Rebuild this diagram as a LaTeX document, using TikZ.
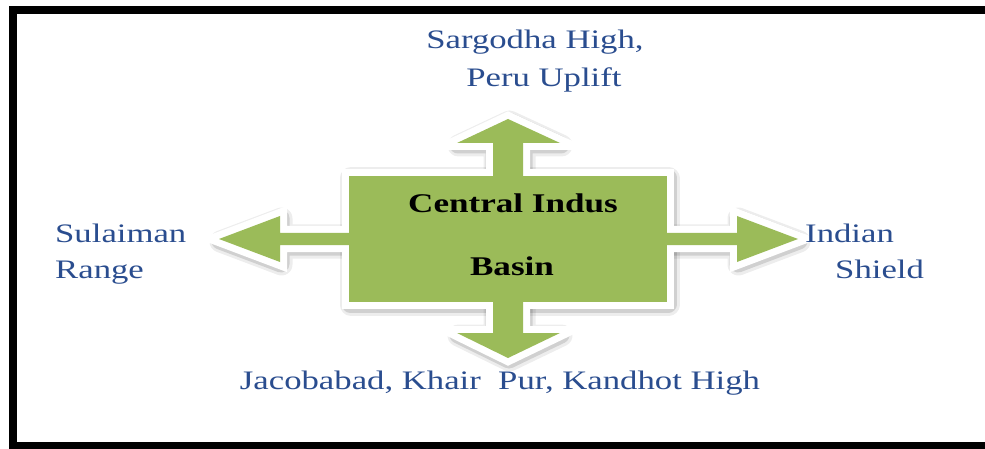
\documentclass[tikz,border=0pt]{standalone}
\usepackage{fontspec}
\setmainfont{Liberation Serif}[FakeStretch=1.3]
\definecolor{olivegreen}{HTML}{9BBB59}
\definecolor{labelblue}{HTML}{2A4D8F}
\begin{document}
\begin{tikzpicture}[x=1pt,y=-1pt,
  lbl/.style={text=labelblue,font=\fontsize{26.7}{30}\selectfont,inner sep=0pt},
  ttl/.style={text=black,font=\fontsize{27}{30}\selectfont\bfseries,inner sep=0pt,anchor=base},
  shA/.style={draw=black,fill=black,opacity=.07,line width=22pt,line join=round,
    transform canvas={shift={(1.5pt,-2.5pt)}}},
  shB/.style={draw=black,fill=black,opacity=.12,line width=17pt,line join=round,
    transform canvas={shift={(1pt,-2pt)}}},
  wh/.style={draw=white,fill=white,line width=14pt,line join=miter},
  gr/.style={fill=olivegreen}]
\useasboundingbox (0,0) rectangle (985,449);
\clip (0,0) rectangle (985,449);
\fill[white] (0,0) rectangle (985,449);
% frame
\draw[line width=8pt] (13,450) -- (13,10) -- (995,10);
\draw[line width=8pt] (13,446) -- (995,446);
% shapes: shadow, white outline, green fill
\foreach \lay in {shA,shB,wh,gr}{
  \path[\lay] (349,176) rectangle (667,302);
  \path[\lay] (493,176) -- (493,143) -- (457,143) -- (508,119) -- (560,143) -- (523,143) -- (523,176) -- cycle;
  \path[\lay] (493,302) -- (493,333) -- (457,333) -- (508,358) -- (560,333) -- (523,333) -- (523,302) -- cycle;
  \path[\lay] (349,233) -- (280,233) -- (280,216) -- (219,239) -- (280,262) -- (280,245) -- (349,245) -- cycle;
  \path[\lay] (667,233) -- (737,233) -- (737,216) -- (798,239) -- (737,262) -- (737,245) -- (667,245) -- cycle;
}
% box text
\node[ttl] (central) at (513,212) {Central Indus};
\node[ttl] (basin) at (512,275) {Basin};
% labels
\node[lbl,anchor=base] (sargodha) at (535,49) {Sargodha High,};
\node[lbl,anchor=base] (peru) at (544,87) {Peru Uplift};
\node[lbl,anchor=base west] (sulaiman) at (55,243) {Sulaiman};
\node[lbl,anchor=base west] (range) at (55,278) {Range};
\node[lbl,anchor=base west] (indian) at (805,243) {Indian};
\node[lbl,anchor=base west] (shield) at (835,278) {Shield};
\node[lbl,anchor=base] (jacobabad) at (500,389) {Jacobabad, Khair\ \ Pur, Kandhot High};
\end{tikzpicture}
\end{document}
